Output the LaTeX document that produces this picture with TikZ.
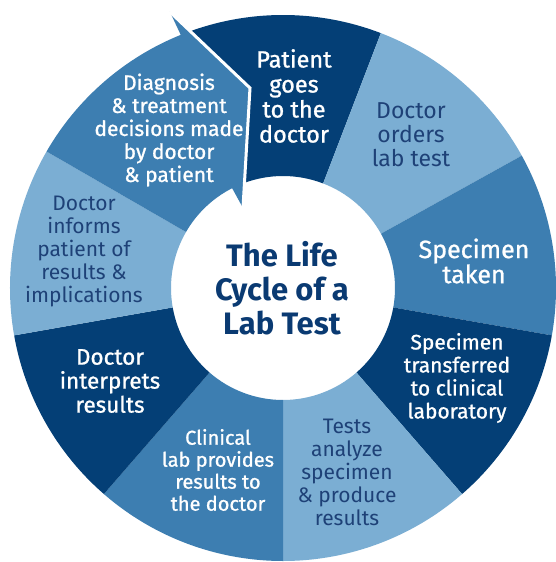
\documentclass[tikz,border=0pt]{standalone}
\usepackage{fontspec}
\setmainfont{Fira Sans}
\newfontfamily\labelfont{Fira Sans}[FakeBold=1]
\definecolor{navy}{HTML}{043F76}
\definecolor{midblue}{HTML}{3D7EB1}
\definecolor{lightblue}{HTML}{7BAED3}
\definecolor{inknavy}{HTML}{1E4177}
\definecolor{titlenavy}{HTML}{0A3A72}
\newcommand\ringsector[3]{%
  \fill[#3] (#1:\Ro) arc[start angle=#1,end angle=#2,radius=\Ro]
    -- (#2:\Ri) arc[start angle=#2,end angle=#1,radius=\Ri] -- cycle;}
\newcommand\fs[2]{\fontsize{#1}{#2}\selectfont}
\begin{document}
\begin{tikzpicture}[x=1pt,y=1pt,
  stagetext/.style={align=center, inner sep=0pt, font=\fs{21}{23}},
  ondark/.style={stagetext, text=white, font=\labelfont\fs{21}{23}},
  onlight/.style={stagetext, text=inknavy},
  titletext/.style={align=center, inner sep=0pt, text=titlenavy,
    font=\fontsize{31}{34}\selectfont\bfseries}]
\def\Ro{273}\def\Ri{112}
\fill[white] (-283,-274) rectangle (272,288);
\useasboundingbox (-283,-274) rectangle (272,288);

% ring segments, clockwise from the top
\fill[navy] (69:\Ro) arc[start angle=69,end angle=112,radius=\Ro]
  -- (117:\Ri) arc[start angle=117,end angle=69,radius=\Ri] -- cycle;
\ringsector{29}{69}{lightblue}
\ringsector{-10}{29}{midblue}
\ringsector{-49}{-10}{navy}
\ringsector{-90}{-49}{lightblue}
\ringsector{-131}{-90}{midblue}
\ringsector{-170}{-131}{navy}
\ringsector{150}{190}{lightblue}

% last segment ends in an arrowhead pointing back to the first
\coordinate (barbout) at (-113,276);
\coordinate (tip) at (-33,200);
\coordinate (barbin) at (-40,80);
\fill[midblue] (150:\Ro) arc[start angle=150,end angle=112,radius=\Ro]
  -- (barbout) -- (tip) -- (barbin)
  -- (117:\Ri) arc[start angle=117,end angle=150,radius=\Ri] -- cycle;
\draw[white, line width=3pt] (barbout) -- (tip) -- (barbin);

% stage labels
\node[ondark, font=\labelfont\fs{23.5}{25}]  (patient) at (11,192) {Patient\\goes\\to the\\doctor};
\node[onlight, font=\fs{23}{24}] (orders) at (128,153) {Doctor\\orders\\lab test};
\node[ondark, font=\labelfont\fs{25}{23}]  (taken) at (191,27) {Specimen\\taken};
\node[ondark]  (transfer)  at (174,-90)  {Specimen\\transferred\\to clinical\\laboratory};
\node[onlight] (tests)     at (64,-184)  {Tests\\analyze\\specimen\\\& produce\\results};
\node[ondark, font=\labelfont\fs{20}{22}]  (provides) at (-65,-182) {Clinical\\lab provides\\results to\\the doctor};
\node[ondark, font=\labelfont\fs{22.5}{24}]  (interpret) at (-173,-93) {Doctor\\interprets\\results};
\node[onlight] (informs)   at (-199,36)  {Doctor\\informs\\patient of\\results \&\\implications};
\node[ondark]  (decide)    at (-114,158) {Diagnosis\\\& treatment\\decisions made\\by doctor\\\& patient};

% centre title
\node[titletext] (title) at (-1,0) {The Life\\Cycle of a\\Lab Test};
\end{tikzpicture}
\end{document}
